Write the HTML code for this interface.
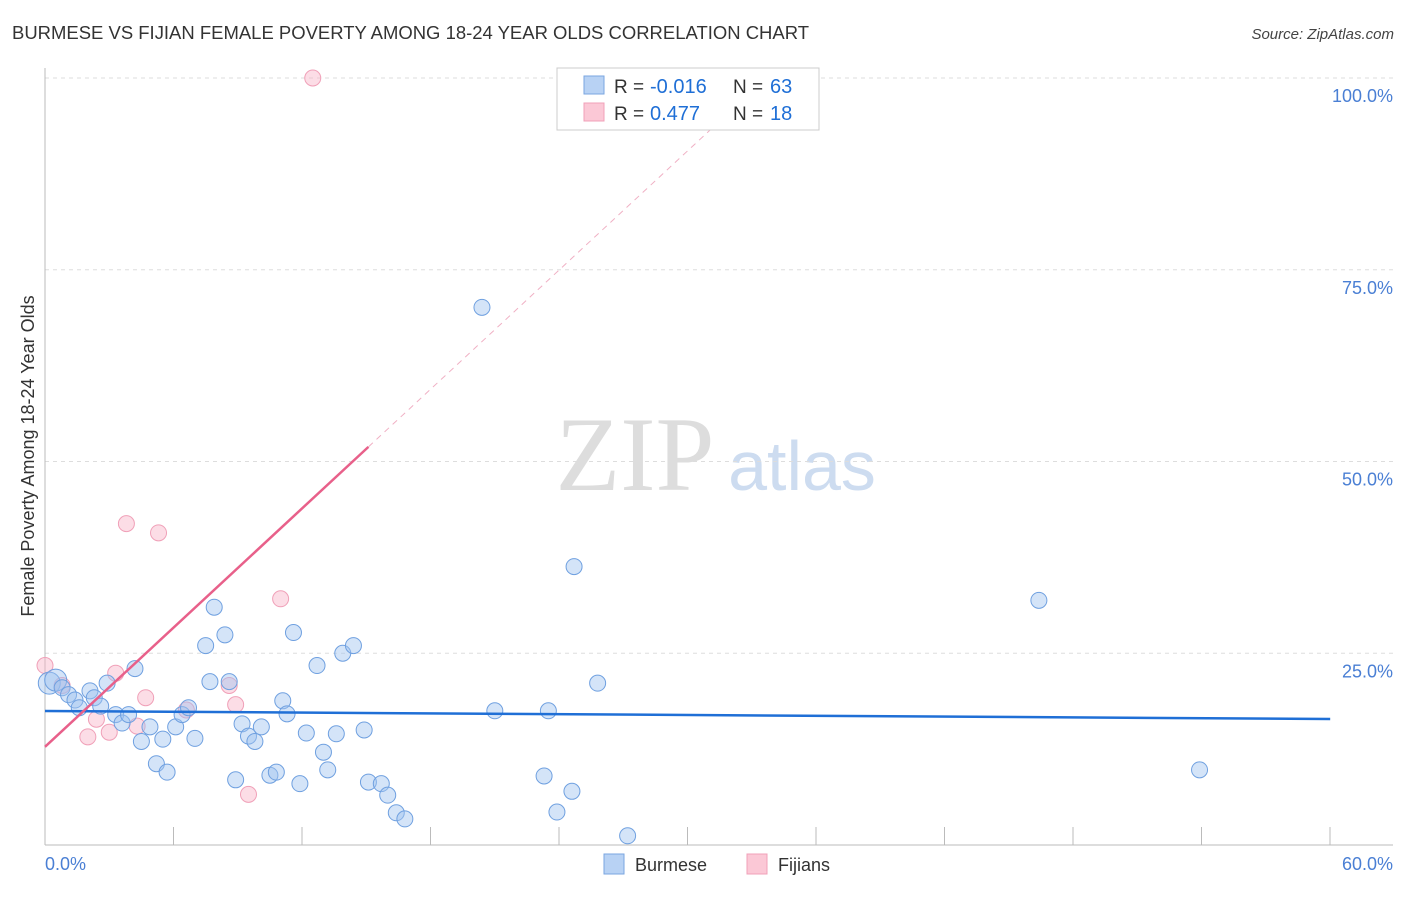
<!DOCTYPE html>
<html><head><meta charset="utf-8">
<style>
body{margin:0;background:#fff;font-family:"Liberation Sans",sans-serif;}
#wrap{position:relative;width:1406px;height:892px;}
</style></head>
<body>
<div id="wrap">
<svg id="svg" width="1406" height="892" xmlns="http://www.w3.org/2000/svg"></svg>
</div>
<script>
const xTicks=[0,60];
const yTicks=[25,50,75,100];
const burmeseX=[0.2,0.5,0.8,1.1,1.4,1.6,2.1,2.3,2.6,2.9,3.3,3.6,3.9,4.2,4.5,4.9,5.2,5.5,5.7,6.1,6.4,6.7,7.0,7.5,7.7,7.9,8.4,8.6,8.9,9.2,9.5,9.8,10.1,10.5,10.8,11.1,11.3,11.6,11.9,12.2,12.7,13.0,13.2,13.6,13.9,14.4,14.9,15.1,15.7,16.0,16.4,16.8,20.4,21.0,23.3,23.5,23.9,24.6,24.7,25.8,27.2,46.4,53.9];
const burmeseY=[21.1,21.5,20.5,19.6,18.9,17.9,20.1,19.2,18.1,21.1,17.0,15.9,17.0,23.0,13.5,15.4,10.6,13.8,9.5,15.4,17.0,17.9,13.9,26.0,21.3,31.0,27.4,21.3,8.5,15.8,14.2,13.5,15.4,9.1,9.5,18.8,17.1,27.7,8.0,14.6,23.4,12.1,9.8,14.5,25.0,26.0,15.0,8.2,8.0,6.5,4.2,3.4,70.1,17.5,9.0,17.5,4.3,7.0,36.3,21.1,1.2,31.9,9.8];
const fijianX=[0.0,0.8,2.0,2.4,3.0,3.3,3.8,4.3,4.7,5.3,6.6,8.6,8.9,9.5,11.0,12.5];
const fijianY=[23.4,20.8,14.1,16.4,14.7,22.4,41.9,15.5,19.2,40.7,17.6,20.8,18.3,6.6,32.1,100.0];
const trendB=[17.47,16.43];
const trendF=[12.8,2.59];
const NS="http://www.w3.org/2000/svg";
const svg=document.getElementById('svg');
const X=v=>45+v*21.42, Y=v=>845-v*7.67;
function mk(t,a,p){const e=document.createElementNS(NS,t);for(const k in a)e.setAttribute(k,a[k]);(p||svg).appendChild(e);return e;}
function txt(s,a){const e=mk('text',a);e.textContent=s;return e;}
let e;
e=txt('BURMESE VS FIJIAN FEMALE POVERTY AMONG 18-24 YEAR OLDS CORRELATION CHART',{x:12,y:39,'font-size':18,fill:'#333',textLength:797,lengthAdjust:'spacingAndGlyphs'});

e=txt('Source: ZipAtlas.com',{x:1394,y:39,'font-size':15,fill:'#444','font-style':'italic','text-anchor':'end'});

e=txt('ZIP',{x:635,y:490,'font-size':106,fill:'#ddd','font-family':'Liberation Serif','text-anchor':'middle'});

e=txt('atlas',{x:802,y:490,'font-size':70,fill:'#cddcf0','text-anchor':'middle'});

yTicks.forEach(v=>{
 e=mk('line',{x1:45,x2:1393,y1:Y(v),y2:Y(v),stroke:'#ddd','stroke-dasharray':'4,4'});
 
 e=txt(v.toFixed(1)+'%',{x:1393,y:Y(v)+24,'font-size':18,fill:'#4a7fd4','text-anchor':'end'});
 
});
e=mk('line',{x1:45,x2:45,y1:68,y2:845,stroke:'#bbb'});

e=mk('line',{x1:45,x2:1393,y1:845,y2:845,stroke:'#bbb'});

for(let i=1;i<=10;i++){e=mk('line',{x1:45+i*128.5,x2:45+i*128.5,y1:827,y2:845,stroke:'#bbb'});
 }
e=txt(xTicks[0].toFixed(1)+'%',{x:45,y:870,'font-size':18,fill:'#4a7fd4'});

e=txt(xTicks[1].toFixed(1)+'%',{x:1393,y:870,'font-size':18,fill:'#4a7fd4','text-anchor':'end'});

e=txt('Female Poverty Among 18-24 Year Olds',{x:0,y:0,'font-size':18,fill:'#333','text-anchor':'middle',transform:'translate(34,456) rotate(-90)'});

fijianX.forEach((v,i)=>{e=mk('circle',{cx:X(v),cy:Y(fijianY[i]),r:8,fill:'rgba(248,180,200,0.45)',stroke:'#f0a0b8','stroke-width':1});
 });
burmeseX.forEach((v,i)=>{e=mk('circle',{cx:X(v),cy:Y(burmeseY[i]),r:i<2?11:8,fill:'rgba(160,195,240,0.45)',stroke:'#6fa0e0','stroke-width':1});
 });
e=mk('line',{x1:X(0),y1:Y(trendB[0]),x2:X(60),y2:Y(trendB[1]),stroke:'#1f6fd6','stroke-width':2.5});

const fx1=15.1, fx2=(95-trendF[0])/trendF[1];
e=mk('line',{x1:X(0),y1:Y(trendF[0]),x2:X(fx1),y2:Y(trendF[0]+trendF[1]*fx1),stroke:'#e8608a','stroke-width':2.5});

e=mk('line',{x1:X(fx1),y1:Y(trendF[0]+trendF[1]*fx1),x2:X(fx2),y2:Y(95),stroke:'#f0b0c4','stroke-width':1,'stroke-dasharray':'6,5'});

const lg=mk('g',{});
mk('rect',{x:557,y:68,width:262,height:62,fill:'#fff',stroke:'#ccc'},lg);
mk('rect',{x:584,y:76,width:20,height:18,fill:'#b8d2f4',stroke:'#7aa6e0'},lg);
mk('rect',{x:584,y:103,width:20,height:18,fill:'#fbc8d6',stroke:'#f0a0b8'},lg);
[['R = ','-0.016','63',93],['R = ',' 0.477','18',120]].forEach(r=>{
 let t=mk('text',{x:614,y:r[3],'font-size':19,fill:'#333'},lg);t.textContent=r[0];
 t=mk('text',{x:650,y:r[3],'font-size':20,fill:'#1f6fd6','xml:space':'preserve'},lg);t.textContent=r[1];
 t=mk('text',{x:733,y:r[3],'font-size':19,fill:'#333'},lg);t.textContent='N = ';
 t=mk('text',{x:770,y:r[3],'font-size':20,fill:'#1f6fd6'},lg);t.textContent=r[2];
});
const bl=mk('g',{});
mk('rect',{x:604,y:854,width:20,height:20,fill:'#b8d2f4',stroke:'#7aa6e0'},bl);
let t=mk('text',{x:635,y:871,'font-size':18,fill:'#333'},bl);t.textContent='Burmese';
mk('rect',{x:747,y:854,width:20,height:20,fill:'#fbc8d6',stroke:'#f0a0b8'},bl);
t=mk('text',{x:778,y:871,'font-size':18,fill:'#333'},bl);t.textContent='Fijians';
</script>
</body></html>
